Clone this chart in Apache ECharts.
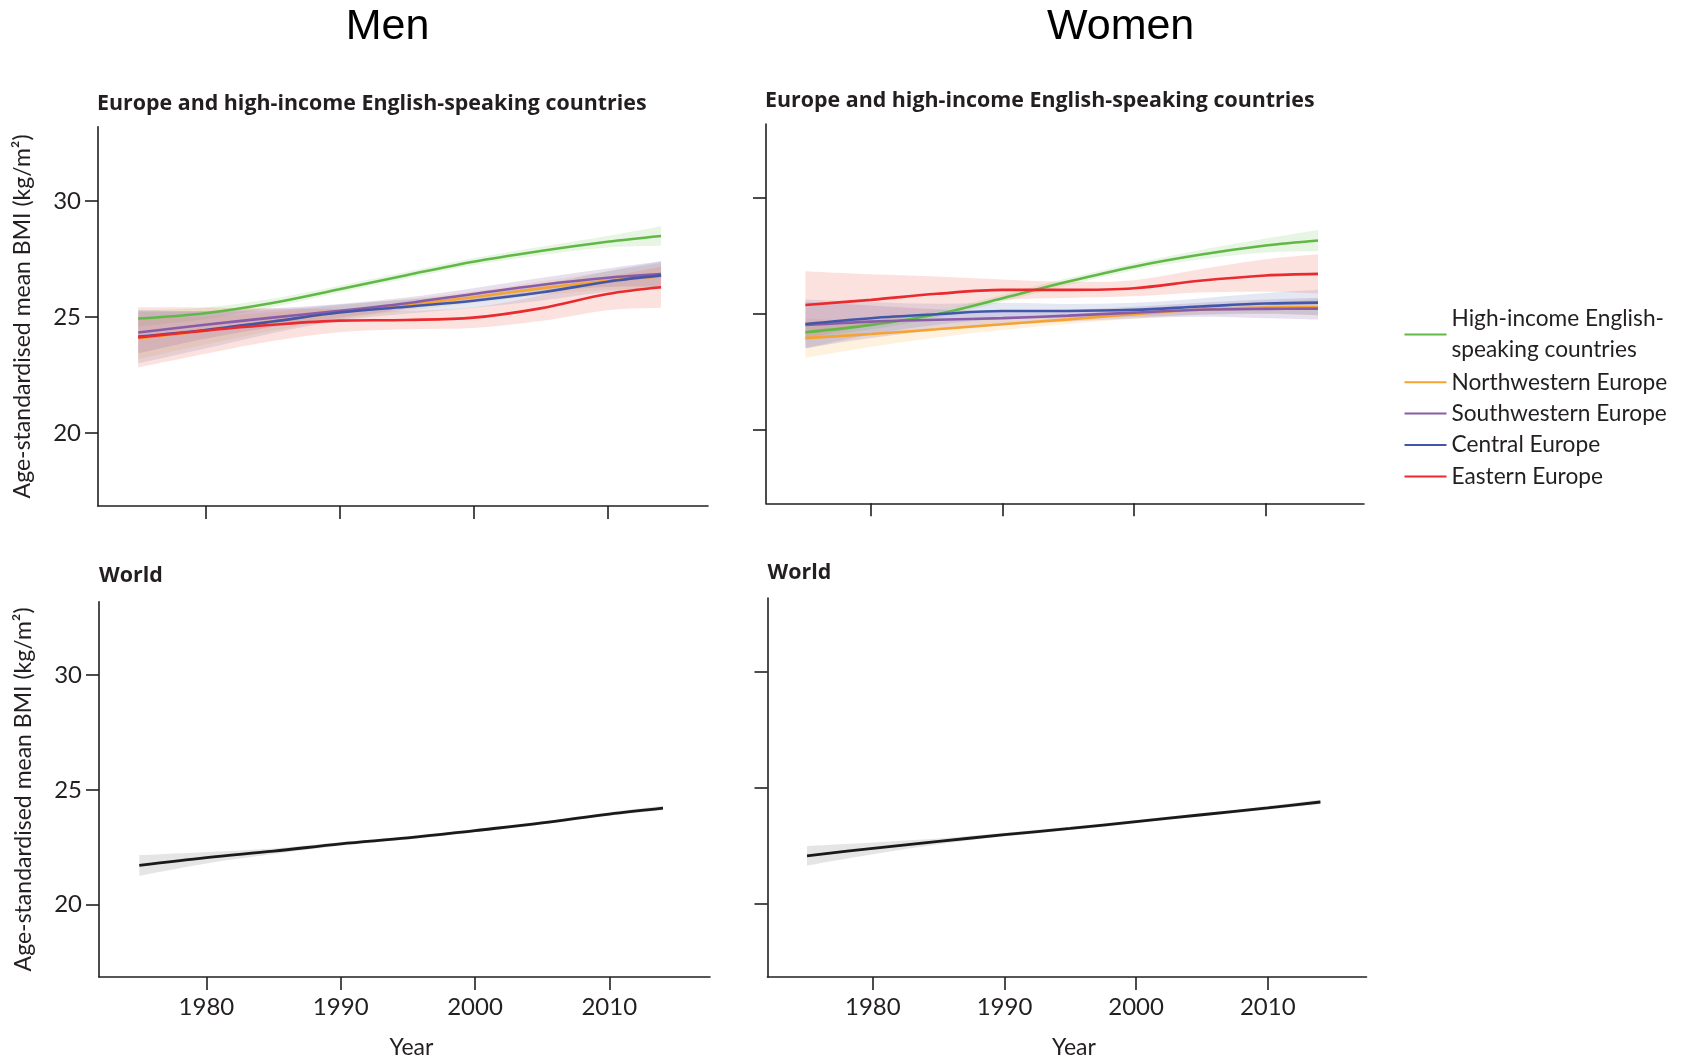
<!DOCTYPE html>
<html>
<head>
<meta charset="utf-8">
<script src="https://cdn.jsdelivr.net/npm/echarts@6/dist/echarts.min.js"></script>
<style>html,body{margin:0;padding:0;background:#fff}#c{width:1688px;height:1060px}</style>
</head>
<body>
<div id="c"></div>
<script>
// ---------- DATA ----------
const years = [1975, 1980, 1985, 1990, 1995, 2000, 2005, 2010, 2014];
const xTicks = [1980, 1990, 2000, 2010];
const yTicks = [20, 25, 30];
const regionNames = ['High-income English-speaking countries', 'Northwestern Europe', 'Southwestern Europe', 'Central Europe', 'Eastern Europe'];

// Men, Europe & high-income English-speaking
const menHighIncome = [24.93, 25.16, 25.60, 26.19, 26.80, 27.38, 27.84, 28.24, 28.49];
const menNW         = [24.08, 24.41, 24.80, 25.19, 25.52, 25.85, 26.23, 26.56, 26.76];
const menSW         = [24.33, 24.66, 24.97, 25.26, 25.59, 25.99, 26.38, 26.69, 26.85];
const menCentral    = [24.15, 24.44, 24.80, 25.19, 25.44, 25.70, 26.05, 26.52, 26.79];
const menEastern    = [24.12, 24.41, 24.66, 24.84, 24.87, 24.97, 25.37, 25.99, 26.28];
// half-widths of uncertainty bands
const menHighIncomeCI = [0.35, 0.25, 0.18, 0.15, 0.15, 0.15, 0.18, 0.25, 0.42];
const menNWCI         = [0.90, 0.60, 0.40, 0.30, 0.25, 0.25, 0.30, 0.40, 0.55];
const menSWCI         = [0.90, 0.60, 0.40, 0.30, 0.25, 0.25, 0.30, 0.40, 0.55];
const menCentralCI    = [1.15, 0.80, 0.50, 0.35, 0.30, 0.30, 0.35, 0.45, 0.60];
const menEasternCI    = [1.30, 1.00, 0.70, 0.50, 0.40, 0.45, 0.55, 0.70, 0.88];

// Women, Europe & high-income English-speaking
const womenHighIncome = [24.22, 24.54, 25.00, 25.69, 26.41, 27.05, 27.56, 27.96, 28.18];
const womenNW         = [23.97, 24.15, 24.35, 24.57, 24.78, 25.00, 25.19, 25.29, 25.30];
const womenSW         = [24.54, 24.68, 24.76, 24.83, 24.94, 25.07, 25.19, 25.23, 25.24];
const womenCentral    = [24.58, 24.83, 25.00, 25.14, 25.14, 25.19, 25.33, 25.46, 25.50];
const womenEastern    = [25.40, 25.62, 25.88, 26.05, 26.05, 26.12, 26.44, 26.67, 26.74];
const womenHighIncomeCI = [0.25, 0.20, 0.15, 0.15, 0.15, 0.15, 0.20, 0.30, 0.45];
const womenNWCI         = [0.85, 0.55, 0.35, 0.25, 0.20, 0.20, 0.20, 0.25, 0.35];
const womenSWCI         = [1.00, 0.70, 0.45, 0.30, 0.25, 0.25, 0.30, 0.40, 0.47];
const womenCentralCI    = [1.05, 0.70, 0.45, 0.35, 0.30, 0.30, 0.35, 0.45, 0.55];
const womenEasternCI    = [1.45, 1.10, 0.75, 0.45, 0.35, 0.35, 0.50, 0.70, 0.85];

// World
const menWorld     = [21.71, 22.05, 22.33, 22.65, 22.91, 23.23, 23.56, 23.95, 24.21];
const menWorldCI   = [0.45, 0.25, 0.12, 0.08, 0.07, 0.07, 0.07, 0.08, 0.10];
const womenWorld   = [22.08, 22.40, 22.70, 22.99, 23.26, 23.55, 23.85, 24.15, 24.40];
const womenWorldCI = [0.42, 0.25, 0.12, 0.08, 0.07, 0.07, 0.07, 0.08, 0.10];

// ---------- STYLE ----------
const lineColors = ['#62b847', '#f5a331', '#8a5ca8', '#4257a9', '#ea2a2f'];
const bandColors = ['rgba(106,190,80,0.16)', 'rgba(247,168,51,0.16)', 'rgba(140,100,170,0.2)', 'rgba(75,99,174,0.15)', 'rgba(240,110,90,0.2)'];
const worldLine = '#1a1a1a', worldBand = 'rgba(0,0,0,0.10)';
const txt = '#231f20';
const FONT = 'Lato';
const TITLE_FONT = 'bold 21.4px "Open Sans"';

const grids = [
  {left: 98,    top: 126.7, width: 610, height: 379.3},
  {left: 766,   top: 124,   width: 598, height: 379.3},
  {left: 99,    top: 601.7, width: 611, height: 379.3},
  {left: 767.5, top: 598,   width: 599, height: 379.3}
];

function smoothSeg(p) {
  let d = '';
  const n = p.length;
  for (let i = 0; i < n - 1; i++) {
    const p0 = p[Math.max(i - 1, 0)], p1 = p[i], p2 = p[i + 1], p3 = p[Math.min(i + 2, n - 1)];
    const c1 = [p1[0] + (p2[0] - p0[0]) / 6, p1[1] + (p2[1] - p0[1]) / 6];
    const c2 = [p2[0] - (p3[0] - p1[0]) / 6, p2[1] - (p3[1] - p1[1]) / 6];
    d += ' C' + c1[0] + ' ' + c1[1] + ' ' + c2[0] + ' ' + c2[1] + ' ' + p2[0] + ' ' + p2[1];
  }
  return d;
}

function bandSeries(gi, mean, ci, fill) {
  return {
    type: 'custom', xAxisIndex: gi, yAxisIndex: gi, z: 1, silent: true,
    data: years.map((y, i) => [y, mean[i]]),
    encode: {x: 0, y: 1},
    renderItem: function (params, api) {
      if (params.dataIndex !== 0) return null;
      const up = years.map((y, i) => api.coord([y, mean[i] + ci[i]]));
      const lo = years.map((y, i) => api.coord([y, mean[i] - ci[i]])).reverse();
      const d = 'M' + up[0][0] + ' ' + up[0][1] + smoothSeg(up) +
        ' L' + lo[0][0] + ' ' + lo[0][1] + smoothSeg(lo) + ' Z';
      return {type: 'path', shape: {pathData: d}, style: {fill: fill}, silent: true};
    }
  };
}

function lineSeries(gi, name, mean, color, width) {
  return {
    type: 'line', name: name, xAxisIndex: gi, yAxisIndex: gi, z: 3,
    data: years.map((y, i) => [y, mean[i]]),
    smooth: 0.35, showSymbol: false, symbol: 'none',
    lineStyle: {color: color, width: width},
    itemStyle: {color: color},
    emphasis: {disabled: true}
  };
}

const series = [];
const menSets = [[menHighIncome, menHighIncomeCI], [menNW, menNWCI], [menSW, menSWCI], [menCentral, menCentralCI], [menEastern, menEasternCI]];
const womenSets = [[womenHighIncome, womenHighIncomeCI], [womenNW, womenNWCI], [womenSW, womenSWCI], [womenCentral, womenCentralCI], [womenEastern, womenEasternCI]];
[[0, menSets], [1, womenSets]].forEach(([gi, sets]) => {
  sets.forEach((s, k) => series.push(bandSeries(gi, s[0], s[1], bandColors[k])));
  sets.forEach((s, k) => series.push(lineSeries(gi, regionNames[k], s[0], lineColors[k], 2.6)));
});
series.push(bandSeries(2, menWorld, menWorldCI, worldBand));
series.push(lineSeries(2, 'World', menWorld, worldLine, 2.8));
series.push(bandSeries(3, womenWorld, womenWorldCI, worldBand));
series.push(lineSeries(3, 'World', womenWorld, worldLine, 2.8));

const axisLineStyle = {lineStyle: {color: txt, width: 1.6}};
const xAxes = grids.map((g, i) => ({
  type: 'value', gridIndex: i, min: 1972, max: 2017.5,
  axisLine: axisLineStyle,
  axisTick: {show: true, length: 13, inside: false, customValues: xTicks, lineStyle: {color: txt, width: 1.6}},
  axisLabel: {show: i >= 2, customValues: xTicks, margin: 18, fontFamily: FONT, fontSize: 24, color: txt,
              formatter: v => String(v)},
  splitLine: {show: false},
  name: i >= 2 ? 'Year' : '', nameLocation: 'middle', nameGap: 59,
  nameTextStyle: {fontFamily: FONT, fontSize: 23, color: txt, padding: [0, 0, 0, 14]}
}));
const yAxes = grids.map((g, i) => ({
  type: 'value', gridIndex: i, min: 16.85, max: 33.2,
  axisLine: axisLineStyle,
  axisTick: {show: true, length: 13, inside: false, customValues: yTicks, lineStyle: {color: txt, width: 1.6}},
  axisLabel: {show: i % 2 === 0, customValues: yTicks, margin: 17, fontFamily: FONT, fontSize: 24, color: txt},
  splitLine: {show: false},
  name: i % 2 === 0 ? 'Age-standardised mean BMI (kg/m²)' : '',
  nameLocation: 'middle', nameGap: 64,
  nameTextStyle: {fontFamily: FONT, fontSize: 23, color: txt}
}));

const firstName = regionNames[0];
const legendText = {fontFamily: FONT, fontSize: 22.7, color: txt, lineHeight: 31.4};
const option = {
  animation: false,
  backgroundColor: '#fff',
  grid: grids,
  xAxis: xAxes,
  yAxis: yAxes,
  legend: [
    {
      orient: 'vertical', left: 1399.5, top: 282.3, itemGap: 0,
      selectedMode: false, icon: 'rect', itemWidth: 42, itemHeight: 2,
      textStyle: Object.assign({}, legendText, {padding: [31.4, 0, 0, 0]}),
      formatter: () => 'High-income English-\nspeaking countries',
      data: [firstName]
    },
    {
      orient: 'vertical', left: 1399.5, top: 361.5, itemGap: 0,
      selectedMode: false, icon: 'rect', itemWidth: 42, itemHeight: 2,
      textStyle: legendText,
      data: regionNames.slice(1)
    }
  ],
  graphic: [
    {type: 'text', x: 387.5, y: 27, style: {text: 'Men', font: '43px "Liberation Sans", Arial', fill: '#000', align: 'center', verticalAlign: 'middle', textAlign: 'center', textVerticalAlign: 'middle'}},
    {type: 'text', x: 1120.6, y: 27, style: {text: 'Women', font: '43px "Liberation Sans", Arial', fill: '#000', align: 'center', verticalAlign: 'middle', textAlign: 'center', textVerticalAlign: 'middle'}},
    {type: 'text', x: 97, y: 104, style: {text: 'Europe and high-income English-speaking countries', font: TITLE_FONT, fill: txt, align: 'left', verticalAlign: 'middle', textAlign: 'left', textVerticalAlign: 'middle'}},
    {type: 'text', x: 765, y: 101, style: {text: 'Europe and high-income English-speaking countries', font: TITLE_FONT, fill: txt, align: 'left', verticalAlign: 'middle', textAlign: 'left', textVerticalAlign: 'middle'}},
    {type: 'text', x: 99, y: 576, style: {text: 'World', font: TITLE_FONT, fill: txt, align: 'left', verticalAlign: 'middle', textAlign: 'left', textVerticalAlign: 'middle'}},
    {type: 'text', x: 767.5, y: 572.5, style: {text: 'World', font: TITLE_FONT, fill: txt, align: 'left', verticalAlign: 'middle', textAlign: 'left', textVerticalAlign: 'middle'}}
  ],
  series: series
};
const chart = echarts.init(document.getElementById('c'), null, {renderer: 'canvas'});
chart.setOption(option);
</script>
</body>
</html>
